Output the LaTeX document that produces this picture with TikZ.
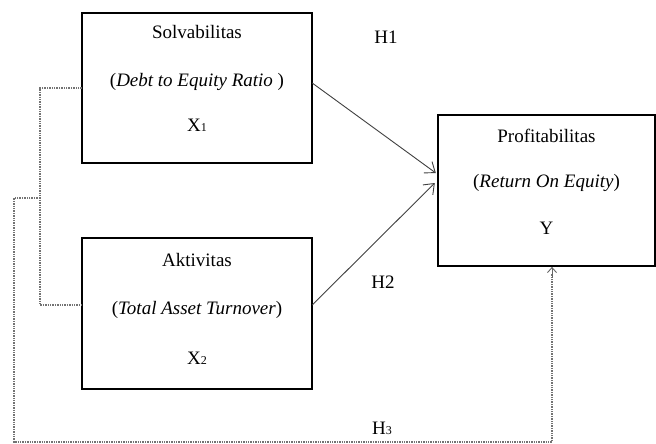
\documentclass[tikz,border=0pt]{standalone}
\usepackage{fontspec}
\setmainfont{Liberation Serif}
\usetikzlibrary{arrows.meta,calc}
\tikzset{
  varbox/.style={draw=black, line width=1.3pt, inner sep=0pt},
  lbl/.style={inner sep=0pt, font=\fontsize{19}{19}\selectfont},
  hyp/.style={draw=black!75, line width=0.9pt, -{Straight Barb[length=9pt,width=14pt,line width=0.9pt]}},
  dot/.style={draw=black!55, line width=1.1pt, dash pattern=on 1.4pt off 1pt},
  subs/.style={}
}
\newcommand{\smallsub}[1]{{\fontsize{12}{12}\selectfont #1}}
\begin{document}
\begin{tikzpicture}[x=1pt,y=-1pt]
\useasboundingbox (0,0) rectangle (656,444);
% boxes
\draw[varbox] (82,13) rectangle (312,163);
\node[inner sep=0pt, minimum width=230pt, minimum height=150pt] (b1) at (197,88) {};
\draw[varbox] (82,238) rectangle (312,389);
\node[inner sep=0pt, minimum width=230pt, minimum height=151pt] (b2) at (197,313.5) {};
\draw[varbox] (438,115) rectangle (655,266);
\node[inner sep=0pt, minimum width=217pt, minimum height=151pt] (b3) at (546.5,190.5) {};
% texts
\node[lbl] (t1a) at (197,32) {Solvabilitas};
\node[lbl] (t1b) at (197,82) {(\textit{Debt to Equity Ratio} )};
\node[lbl] (t1c) at (197,125) {X\smallsub{1}};
\node[lbl] (t2a) at (197,260) {Aktivitas};
\node[lbl] (t2b) at (197,310) {(\textit{Total Asset Turnover})};
\node[lbl] (t2c) at (197,358) {X\smallsub{2}};
\node[lbl] (t3a) at (546.5,136) {Profitabilitas};
\node[lbl] (t3b) at (546.5,183) {(\textit{Return On Equity})};
\node[lbl] (t3c) at (546.5,228) {Y};
\node[lbl] (h1) at (386,37) {H1};
\node[lbl] (h2) at (383,282) {H2};
\node[lbl] (h3) at (382,428) {H\smallsub{3}};
% hypothesis arrows
\draw[hyp] ([yshift=5pt]b1.east) -- ([xshift=-2pt,yshift=17.5pt]b3.west);
\draw[hyp] ([yshift=8.5pt]b2.east) -- ([xshift=-3pt,yshift=7.5pt]b3.west);
% dotted bracket
\coordinate (c1) at (40,88);
\coordinate (c2) at (40,305);
\coordinate (cm) at (40,198);
\coordinate (d1) at (14,198);
\coordinate (d2) at (14,442);
\coordinate (d3) at (552,442);
\draw[dot] (b1.west) -- (c1) -- (c2) -- ([yshift=8.5pt]b2.west);
\draw[dot] (cm) -- (d1) -- (d2) -- (d3) -- ([yshift=-8pt]d3 |- b3.south);
\draw[draw=black!60, line width=0.9pt, -{Straight Barb[length=5pt,width=9pt,line width=0.9pt]}] ([yshift=-12pt]d3 |- b3.south) -- ([yshift=-0.7pt]d3 |- b3.south);
\end{tikzpicture}
\end{document}
